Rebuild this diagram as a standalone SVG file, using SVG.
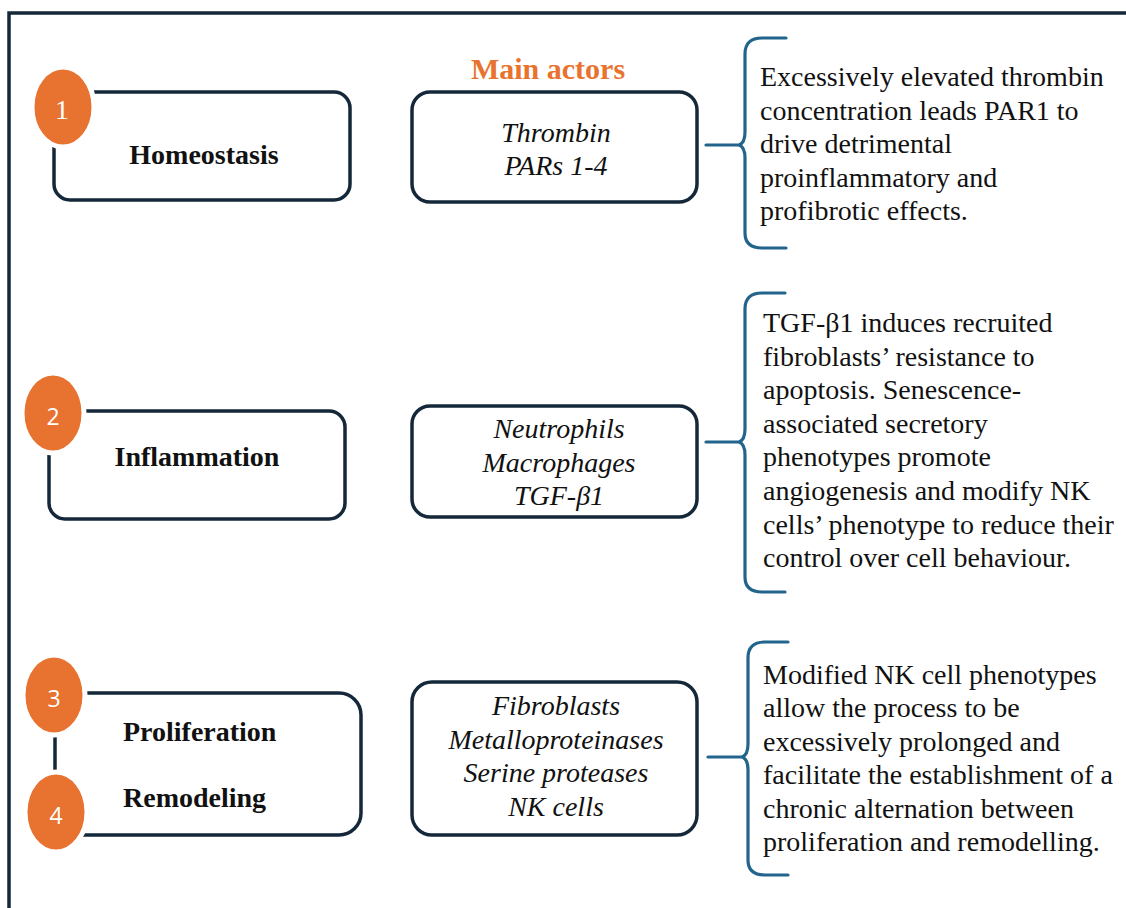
<svg xmlns="http://www.w3.org/2000/svg" width="1126" height="908" viewBox="0 0 1126 908">
<style>
.frame{fill:none;stroke:#14283a;stroke-width:3.5}
.box{fill:none;stroke:#14283a;stroke-width:3.5}
.num{fill:#e8722f;stroke:#ffffff;stroke-width:5}
.brace{fill:none;stroke:#22648b;stroke-width:3.2;stroke-linecap:round;stroke-linejoin:round}
.stage{font-family:"Liberation Serif","Times New Roman",serif;font-weight:bold;font-size:28px;fill:#111}
.actor{font-family:"Liberation Serif","Times New Roman",serif;font-style:italic;font-size:28px;fill:#111;text-anchor:middle}
.body{font-family:"Liberation Serif","Times New Roman",serif;font-size:28px;fill:#111}
.title{font-family:"Liberation Serif","Times New Roman",serif;font-weight:bold;font-size:30px;fill:#e8732f;text-anchor:middle}
.n1{font-family:"Liberation Serif",serif;font-size:28px;fill:#fff;text-anchor:middle}
.n2{font-family:"Open Sans","Liberation Sans",sans-serif;font-size:23px;fill:#fff;text-anchor:middle}
</style>
<rect width="1126" height="908" fill="#ffffff"/>
<path class="frame" d="M9 910 V13 H1130"/>
<text class="title" x="548" y="79">Main actors</text>

<g id="stage1">
<rect class="box" x="54" y="92" width="296" height="108" rx="16"/>
<ellipse class="num" cx="63" cy="107" rx="31" ry="40"/>
<text class="n1" x="62" y="119">1</text>
<text class="stage" x="204" y="164" text-anchor="middle">Homeostasis</text>
</g>
<g id="actors1">
<rect class="box" x="412" y="92" width="285" height="110" rx="18"/>
<text class="actor" x="556" y="142">Thrombin</text>
<text class="actor" x="556" y="175">PARs 1-4</text>
</g>
<g id="effect1">
<text class="body" x="760" y="86">Excessively elevated thrombin</text>
<text class="body" x="760" y="119.5">concentration leads PAR1 to</text>
<text class="body" x="760" y="153">drive detrimental</text>
<text class="body" x="760" y="186.5">proinflammatory and</text>
<text class="body" x="760" y="220">profibrotic effects.</text>
</g>

<g id="stage2">
<rect class="box" x="49" y="411" width="296" height="108" rx="16"/>
<ellipse class="num" cx="53" cy="413" rx="31" ry="40"/>
<text class="n2" x="53" y="425">2</text>
<text class="stage" x="197" y="466" text-anchor="middle">Inflammation</text>
</g>
<g id="actors2">
<rect class="box" x="412" y="406" width="285" height="111" rx="18"/>
<text class="actor" x="559" y="438">Neutrophils</text>
<text class="actor" x="559" y="471.5">Macrophages</text>
<text class="actor" x="559" y="505">TGF-β1</text>
</g>
<g id="effect2">
<text class="body" x="763" y="332">TGF-β1 induces recruited</text>
<text class="body" x="763" y="365.6">fibroblasts’ resistance to</text>
<text class="body" x="763" y="399.2">apoptosis. Senescence-</text>
<text class="body" x="763" y="432.8">associated secretory</text>
<text class="body" x="763" y="466.4">phenotypes promote</text>
<text class="body" x="763" y="500">angiogenesis and modify NK</text>
<text class="body" x="763" y="533.6">cells’ phenotype to reduce their</text>
<text class="body" x="763" y="567.2">control over cell behaviour.</text>
</g>

<g id="stage34">
<rect class="box" x="55" y="693" width="306" height="142" rx="22"/>
<ellipse class="num" cx="54" cy="695" rx="31" ry="40"/>
<ellipse class="num" cx="56" cy="812" rx="31" ry="40"/>
<text class="n2" x="54" y="707">3</text>
<text class="n2" x="56" y="824">4</text>
<text class="stage" x="123" y="741">Proliferation</text>
<text class="stage" x="123" y="807">Remodeling</text>
</g>
<g id="actors3">
<rect class="box" x="412" y="682" width="285" height="153" rx="20"/>
<text class="actor" x="556" y="715">Fibroblasts</text>
<text class="actor" x="556" y="748.5">Metalloproteinases</text>
<text class="actor" x="556" y="782">Serine proteases</text>
<text class="actor" x="556" y="815.5">NK cells</text>
</g>
<g id="effect3">
<text class="body" x="763" y="684">Modified NK cell phenotypes</text>
<text class="body" x="763" y="717.4">allow the process to be</text>
<text class="body" x="763" y="750.8">excessively prolonged and</text>
<text class="body" x="763" y="784.2">facilitate the establishment of a</text>
<text class="body" x="763" y="817.6">chronic alternation between</text>
<text class="body" x="763" y="851">proliferation and remodelling.</text>
</g>

<g id="connectors">
<path class="brace" d="M786 38 H762 Q745 38 745 54 V132 Q745 143 739 145 Q745 147 745 158 V233 Q745 248 762 248 H786 M706 145 H740"/>
<path class="brace" d="M785 293 H762 Q745 293 745 309 V429 Q745 440 739 442 Q745 444 745 455 V577 Q745 592 762 592 H785 M706 442 H740"/>
<path class="brace" d="M788 642 H765 Q748 642 748 658 V744 Q748 755 742 757 Q748 759 748 770 V860 Q748 875 765 875 H788 M708 757 H743"/>
</g>
</svg>
